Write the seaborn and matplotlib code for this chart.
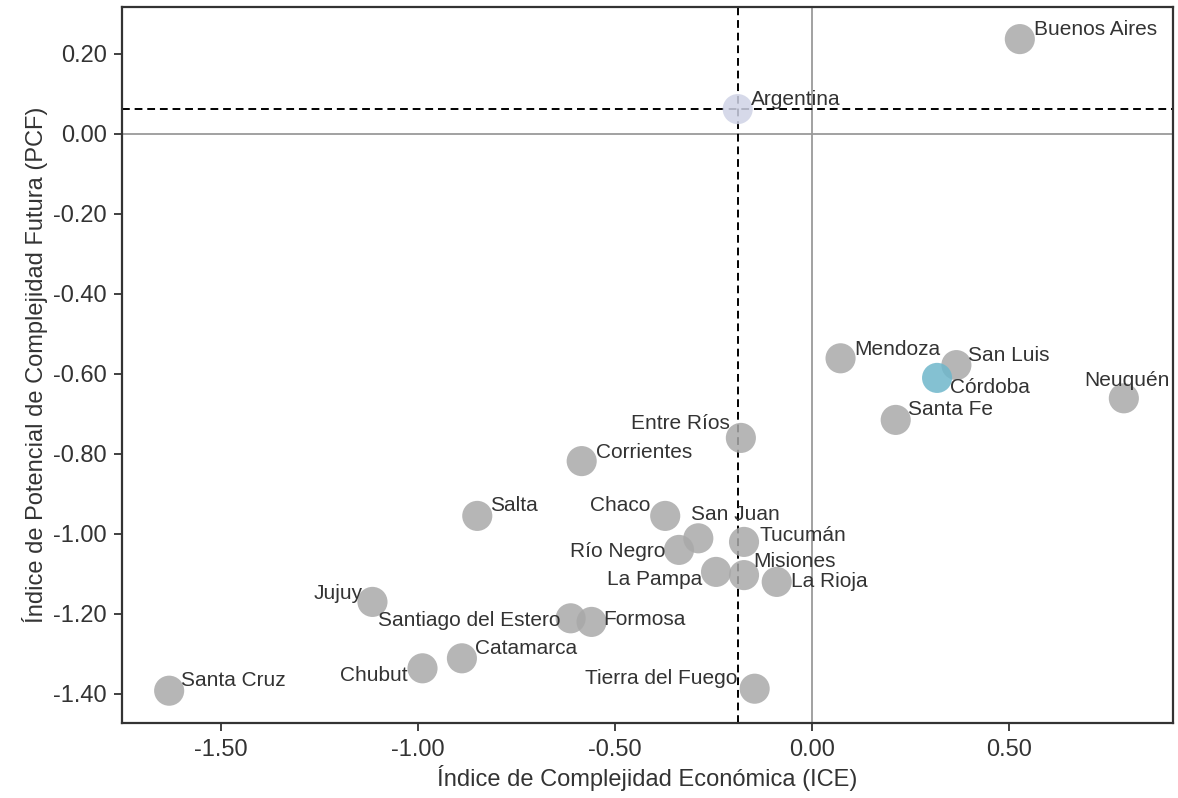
import pandas as pd
import matplotlib
matplotlib.use('Agg')
import matplotlib.pyplot as plt
from matplotlib.ticker import FuncFormatter
import seaborn as sns

# Datos: provincias, ICE (x) y PCF (y)
provincias = ['Buenos Aires', 'Argentina', 'Mendoza', 'San Luis', 'Córdoba', 'Neuquén',
              'Santa Fe', 'Entre Ríos', 'Corrientes', 'Salta', 'Chaco', 'San Juan',
              'Tucumán', 'Río Negro', 'La Pampa', 'Misiones', 'La Rioja', 'Jujuy',
              'Santiago del Estero', 'Formosa', 'Catamarca', 'Chubut', 'Santa Cruz',
              'Tierra del Fuego']
ice = [0.527, -0.189, 0.072, 0.366, 0.317, 0.791,
       0.212, -0.181, -0.585, -0.850, -0.373, -0.289,
       -0.173, -0.338, -0.244, -0.173, -0.090, -1.116,
       -0.613, -0.560, -0.889, -0.989, -1.632,
       -0.146]
pcf = [0.236, 0.061, -0.562, -0.579, -0.611, -0.662,
       -0.716, -0.761, -0.819, -0.956, -0.956, -1.012,
       -1.021, -1.041, -1.096, -1.104, -1.121, -1.171,
       -1.212, -1.221, -1.312, -1.337, -1.393,
       -1.388]
grupo = ['Córdoba' if p == 'Córdoba' else 'Argentina' if p == 'Argentina' else 'Provincia'
         for p in provincias]

x_ticks = [-1.5, -1.0, -0.5, 0.0, 0.5]
y_ticks = [0.2, 0.0, -0.2, -0.4, -0.6, -0.8, -1.0, -1.2, -1.4]

df = pd.DataFrame({'provincia': provincias, 'ice': ice, 'pcf': pcf, 'grupo': grupo})
# Córdoba se dibuja al final para que quede encima
df['orden'] = df['grupo'].map({'Provincia': 0, 'Argentina': 1, 'Córdoba': 2})
df = df.sort_values('orden')

# posicion de las etiquetas (pixeles respecto al punto)
offsets = {
    'Buenos Aires': (14, 10, 'left'), 'Argentina': (13, 10, 'left'),
    'Mendoza': (14, 9, 'left'), 'San Luis': (12, 10, 'left'),
    'Córdoba': (13, -10, 'left'), 'Neuquén': (3, 18, 'center'),
    'Santa Fe': (12, 10, 'left'), 'Entre Ríos': (-11, 14, 'right'),
    'Corrientes': (14, 9, 'left'), 'Salta': (13, 10, 'left'),
    'Chaco': (-15, 10, 'right'), 'San Juan': (-7, 24, 'left'),
    'Tucumán': (15, 6, 'left'), 'Río Negro': (-14, -2, 'right'),
    'La Pampa': (-14, -8, 'right'), 'Misiones': (9, 14, 'left'),
    'La Rioja': (14, 0, 'left'), 'Jujuy': (-10, 8, 'right'),
    'Santiago del Estero': (-10, -2, 'right'), 'Formosa': (12, 2, 'left'),
    'Catamarca': (13, 10, 'left'), 'Chubut': (-15, -7, 'right'),
    'Santa Cruz': (12, 10, 'left'), 'Tierra del Fuego': (-17, 10, 'right'),
}

sns.set_style('ticks')
plt.rcParams['font.family'] = ['Liberation Sans', 'DejaVu Sans']
gris_txt = '#333333'

fig = plt.figure(figsize=(11.78, 7.98), dpi=100)
ax = fig.add_axes([0.1038, 0.0936, 0.8917, 0.898])

# lineas de referencia
ax.axhline(0, color='#9a9a9a', lw=1.3, zorder=0)
ax.axvline(0, color='#9a9a9a', lw=1.3, zorder=0)
arg = df[df['provincia'] == 'Argentina'].iloc[0]
ax.axvline(arg['ice'], color='black', lw=1.4, ls=(0, (4, 2.5)), zorder=1)
ax.axhline(arg['pcf'], color='black', lw=1.4, ls=(0, (4, 2.5)), zorder=1)

sns.scatterplot(data=df, x='ice', y='pcf', hue='grupo',
                palette={'Provincia': '#a9a9a9', 'Argentina': '#cfd3e6', 'Córdoba': '#6fb7cb'},
                s=470, alpha=0.85, linewidth=0, legend=False, ax=ax, zorder=2)

for _, r in df.iterrows():
    dx, dy, ha = offsets[r['provincia']]
    ax.annotate(r['provincia'], (r['ice'], r['pcf']), xytext=(dx, dy),
                textcoords='offset pixels', ha=ha, va='center',
                fontsize=15, color=gris_txt, zorder=3)

ax.set_xlim(-1.751, 0.915)
ax.set_ylim(-1.4745, 0.317)
ax.set_xticks(x_ticks)
ax.set_yticks(y_ticks)
fmt = FuncFormatter(lambda v, p: f'{v:.2f}'.replace('−', '-'))
ax.xaxis.set_major_formatter(fmt)
ax.yaxis.set_major_formatter(fmt)
ax.tick_params(labelsize=17, colors=gris_txt, length=6, width=1.3, pad=5)
for s in ax.spines.values():
    s.set_color('#333333')
    s.set_linewidth(1.6)

ax.set_xlabel('Índice de Complejidad Económica (ICE)', fontsize=17, color=gris_txt, labelpad=3)
ax.set_ylabel('Índice de Potencial de Complejidad Futura (PCF)', fontsize=17, color=gris_txt, labelpad=4)

fig.savefig('out.png', dpi=100)
